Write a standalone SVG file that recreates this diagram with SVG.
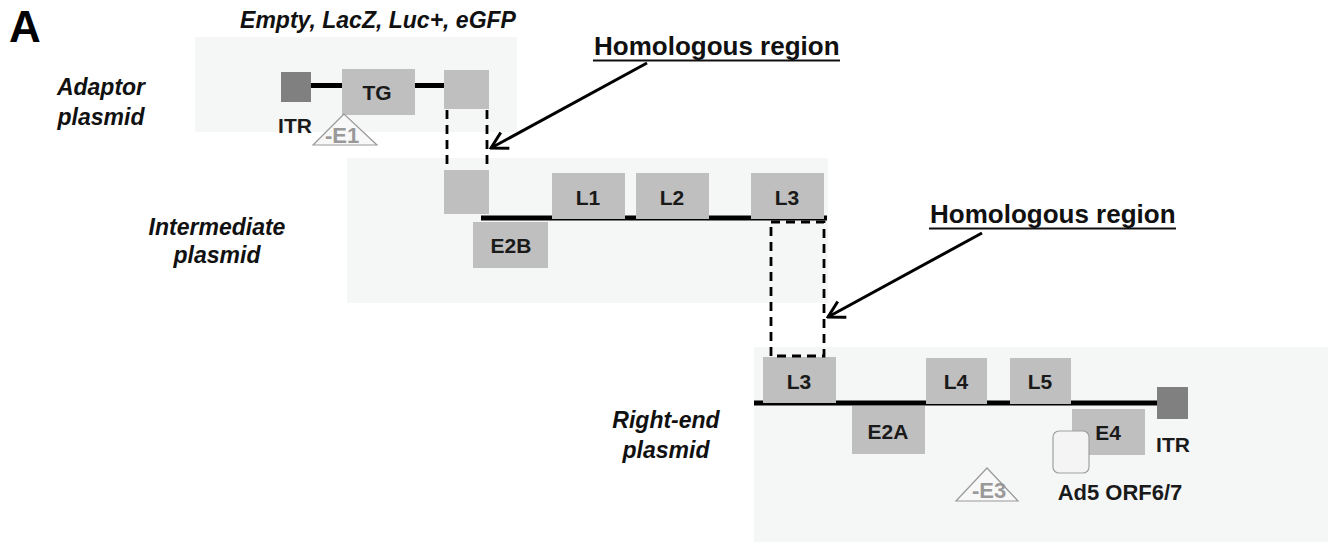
<svg xmlns="http://www.w3.org/2000/svg" width="1328" height="547" viewBox="0 0 1328 547">
<defs>
<style>
.panel{fill:#f5f6f6}
.box{fill:#bfbfbf}
.itr{fill:#808080}
.dna{stroke:#000;stroke-width:5;fill:none}
.dash{stroke:#000;stroke-width:2.8;stroke-dasharray:9 6;fill:none}
.lbl{font-family:"Liberation Sans",Arial,sans-serif;font-weight:bold;fill:#1a1a1a;text-anchor:middle}
.plab{font-family:"Liberation Sans",Arial,sans-serif;font-weight:bold;font-style:italic;font-size:23px;fill:#111;text-anchor:middle}
.del{fill:#f8f8f8;stroke:#999;stroke-width:1.2}
.deltxt{font-family:"Liberation Sans",Arial,sans-serif;font-size:22px;fill:#999;text-anchor:middle}
.hom{font-family:"Liberation Sans",Arial,sans-serif;font-weight:bold;font-size:26px;fill:#111}
.arrow{stroke:#000;stroke-width:3;fill:none}
</style>
<marker id="ah" markerUnits="userSpaceOnUse" markerWidth="22" markerHeight="22" viewBox="0 0 22 22" refX="20" refY="11" orient="auto">
<path d="M4,2 L20,11 L4,20" fill="none" stroke="#000" stroke-width="3"/>
</marker>
</defs>
<rect width="1328" height="547" fill="#fff"/>
<text x="9" y="42" font-family="Liberation Sans,Arial,sans-serif" font-weight="bold" font-size="44" fill="#000">A</text>

<g id="adaptor">
<rect class="panel" x="195" y="37" width="322" height="95"/>
<text class="plab" x="101" y="95">Adaptor</text>
<text class="plab" x="101" y="125">plasmid</text>
<text class="plab" x="378" y="28" font-size="20.5">Empty, LacZ, Luc+, eGFP</text>
<line class="dna" x1="311" y1="85.5" x2="444" y2="85.5"/>
<rect class="itr" x="281" y="72" width="30" height="30"/>
<rect class="box" x="342" y="69" width="73" height="46"/>
<text class="lbl" x="377" y="100" font-size="21">TG</text>
<rect class="box" x="444" y="70" width="45" height="39"/>
<text class="lbl" x="295" y="133" font-size="21">ITR</text>
<polygon class="del" points="344,114 313,145 377,145"/>
<text class="deltxt" x="342" y="143" font-weight="bold">-E1</text>
</g>

<g id="intermediate">
<rect class="panel" x="347" y="158" width="481" height="145"/>
<text class="plab" x="217" y="235">Intermediate</text>
<text class="plab" x="217" y="263">plasmid</text>
<line class="dna" x1="481" y1="218" x2="827" y2="218"/>
<rect class="box" x="444" y="170" width="45" height="44"/>
<rect class="box" x="552" y="173" width="73" height="46"/>
<text class="lbl" x="588" y="205" font-size="21">L1</text>
<rect class="box" x="636" y="173" width="73" height="46"/>
<text class="lbl" x="672" y="205" font-size="21">L2</text>
<rect class="box" x="751" y="173" width="73" height="46"/>
<text class="lbl" x="787" y="205" font-size="21">L3</text>
<rect class="box" x="473" y="222" width="75" height="46"/>
<text class="lbl" x="511" y="253" font-size="21">E2B</text>
</g>

<g id="rightend">
<rect class="panel" x="754" y="347" width="574" height="195"/>
<text class="plab" x="666" y="428">Right-end</text>
<text class="plab" x="666" y="458">plasmid</text>
<line class="dna" x1="754" y1="403" x2="1158" y2="403"/>
<rect class="box" x="763" y="357" width="73" height="46"/>
<text class="lbl" x="799" y="389" font-size="21">L3</text>
<rect class="box" x="926" y="358" width="61" height="46"/>
<text class="lbl" x="956" y="389" font-size="21">L4</text>
<rect class="box" x="1010" y="358" width="61" height="46"/>
<text class="lbl" x="1040" y="389" font-size="21">L5</text>
<rect class="box" x="852" y="406" width="73" height="48"/>
<text class="lbl" x="888" y="439" font-size="21">E2A</text>
<rect class="box" x="1072" y="409" width="73" height="46"/>
<text class="lbl" x="1108" y="440" font-size="21">E4</text>
<rect class="itr" x="1157" y="387" width="31" height="32"/>
<text class="lbl" x="1173" y="452" font-size="21">ITR</text>
<rect x="1053" y="431" width="36" height="42" rx="6" fill="#f4f4f4" stroke="#a0a0a0" stroke-width="1.2"/>
<text class="lbl" x="1120" y="500" font-size="22" fill="#111">Ad5 ORF6/7</text>
<polygon class="del" points="987,468 956,501 1018,501"/>
<text class="deltxt" x="989" y="498" font-weight="bold">-E3</text>
</g>

<g id="connectors">
<line class="dash" x1="447" y1="110" x2="447" y2="170"/>
<line class="dash" x1="487" y1="110" x2="487" y2="170"/>
<rect class="dash" x="771" y="222" width="53" height="134"/>
<text class="hom" x="594" y="55">Homologous region</text>
<line x1="593" y1="60.5" x2="840" y2="60.5" stroke="#111" stroke-width="2"/>
<line class="arrow" x1="647" y1="63" x2="491" y2="148" marker-end="url(#ah)"/>
<text class="hom" x="930" y="223">Homologous region</text>
<line x1="929" y1="228.5" x2="1176" y2="228.5" stroke="#111" stroke-width="2"/>
<line class="arrow" x1="982" y1="233" x2="828" y2="317" marker-end="url(#ah)"/>
</g>
</svg>
